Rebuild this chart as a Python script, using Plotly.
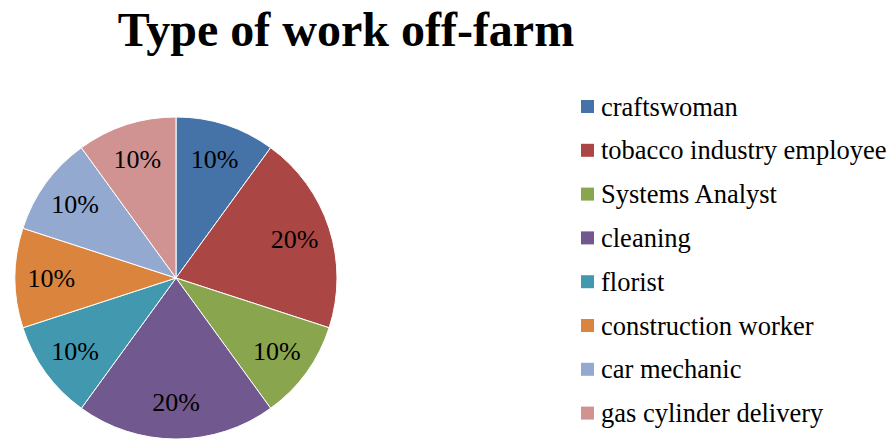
import plotly.graph_objects as go

labels = ["craftswoman", "tobacco industry employee", "Systems Analyst", "cleaning",
          "florist", "construction worker", "car mechanic", "gas cylinder delivery"]
values = [1, 2, 1, 2, 1, 1, 1, 1]
colors = ["#4572A7", "#AA4643", "#89A54E", "#71588F", "#4198AF", "#DB843D", "#93A9CF", "#D19392"]

W, H = 892, 439
T = 117
FONT = "Liberation Serif, Times New Roman, serif"
dom = dict(x=[14 / W, 338 / W], y=[0, 1])

fig = go.Figure()
fig.add_trace(go.Pie(
    labels=labels, values=values, sort=False, direction="clockwise", rotation=0,
    marker=dict(colors=colors, line=dict(color="white", width=1)),
    textinfo="none", domain=dom, showlegend=False,
))
# transparent ring overlay carrying the percentage labels (places them at ~0.78 R)
fig.add_trace(go.Pie(
    labels=labels, values=values, sort=False, direction="clockwise", rotation=0,
    hole=0.55,
    marker=dict(colors=["rgba(0,0,0,0)"] * len(labels), line=dict(width=0)),
    textinfo="percent", texttemplate="%{percent:.0%}",
    textposition="inside", insidetextorientation="horizontal",
    textfont=dict(family=FONT, size=26, color="black"),
    domain=dom, showlegend=False, hoverinfo="skip",
))

# legend drawn manually to match spacing
x0_sq, x1_sq = 581 / W, 594 / W
y_first, step = 106.5, 43.8
PH = H - T
shapes, annotations = [], []
for i, (lab, col) in enumerate(zip(labels, colors)):
    yc = y_first + i * step
    shapes.append(dict(type="rect", xref="paper", yref="paper",
                       x0=x0_sq, x1=x1_sq,
                       y0=1 - (yc + 6.5 - T) / PH, y1=1 - (yc - 6.5 - T) / PH,
                       fillcolor=col, line=dict(width=0)))
    annotations.append(dict(xref="paper", yref="paper", x=599 / W,
                            y=1 - (yc - T) / PH, text=lab, showarrow=False,
                            xanchor="left", yanchor="middle",
                            font=dict(family=FONT, size=26.5, color="black")))

fig.update_layout(
    width=W, height=H,
    margin=dict(l=0, r=0, t=T, b=0),
    paper_bgcolor="white", plot_bgcolor="white",
    title=dict(text="<b>Type of work off-farm</b>", x=346 / W, xanchor="center",
               y=1 - 29 / H, yanchor="middle",
               font=dict(family=FONT, size=48, color="black")),
    shapes=shapes, annotations=annotations,
)
fig.write_html("out.html", post_script="document.body.style.margin='0';",
               config={"displayModeBar": False})
